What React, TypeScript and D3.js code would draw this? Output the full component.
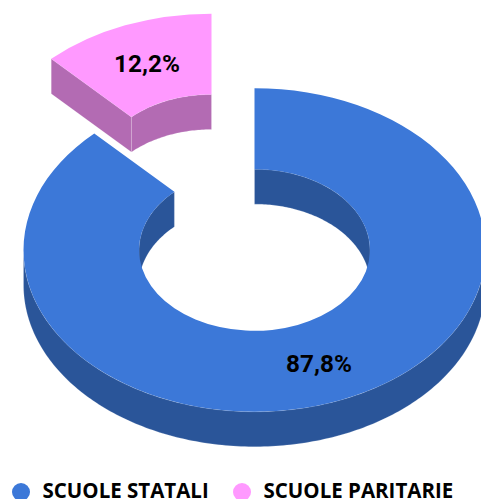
import React from 'react'
import * as d3 from 'd3'

const categories = ['SCUOLE PARITARIE', 'SCUOLE STATALI']
const values = [12.2, 87.8]
const labels = ['12,2%', '87,8%']
const topColors = ['#ff99ff', '#3c78d8']
const sideColors = ['#b36bb3', '#2a5599']
const legendOrder = [1, 0]
const legendX = [21, 242]

const width = 481
const height = 499
const cx = 254.5
const cy = 250
const rx = 231
const tilt = 0.7
const innerRatio = 0.5
const depth = 35
const explode = 115

// pie runs from -PI .. PI so the small slice ends at 12 o'clock
const arcs = d3.pie<number>().sort(null).startAngle(-2 * Math.PI * values[0] / 100).endAngle(2 * Math.PI - 2 * Math.PI * values[0] / 100)(values)

const px = (r: number, a: number) => r * Math.sin(a)
const py = (r: number, a: number) => -r * tilt * Math.cos(a)
const line = d3.line()

// band of the ellipse edge pushed down by depth
function wall(r: number, a0: number, a1: number) {
  const n = Math.max(2, Math.ceil(Math.abs(a1 - a0) * 60))
  const angles = d3.range(n + 1).map(i => a0 + (a1 - a0) * i / n)
  const top = angles.map(a => [px(r, a), py(r, a)] as [number, number])
  const bottom = angles.map(a => [px(r, a), py(r, a) + depth] as [number, number]).reverse()
  return line(top.concat(bottom)) + 'Z'
}

function cut(a: number) {
  const ri = rx * innerRatio
  return line([
    [px(ri, a), py(ri, a)],
    [px(rx, a), py(rx, a)],
    [px(rx, a), py(rx, a) + depth],
    [px(ri, a), py(ri, a) + depth],
  ]) + 'Z'
}

// visible piece of a wall: [a0,a1] intersected with a periodic window
function clipRange(a0: number, a1: number, w0: number, w1: number) {
  const out: [number, number][] = []
  for (const k of [-2, -1, 0, 1, 2]) {
    const s = Math.max(a0, w0 + k * 2 * Math.PI)
    const e = Math.min(a1, w1 + k * 2 * Math.PI)
    if (e > s) out.push([s, e])
  }
  return out
}

const arcGen = d3.arc<d3.PieArcDatum<number>>().innerRadius(rx * innerRatio).outerRadius(rx)
const edge = { stroke: '#ffffff', strokeOpacity: 0.25, strokeWidth: 0.7 }

function Slice({ i }: { i: number }) {
  const d = arcs[i]
  const mid = (d.startAngle + d.endAngle) / 2
  const off = i === 0 ? [explode * Math.sin(mid), -explode * tilt * Math.cos(mid)] : [0, 0]
  const ri = rx * innerRatio
  return (
    <g transform={`translate(${cx + off[0]},${cy + off[1]})`}>
      {clipRange(d.startAngle, d.endAngle, -Math.PI / 2, Math.PI / 2).map((r, k) => (
        <path key={'in' + k} d={wall(ri, r[0], r[1])} fill={sideColors[i]} {...edge} />
      ))}
      {i === 0 && <path d={cut(d.startAngle)} fill={sideColors[i]} {...edge} />}
      {clipRange(d.startAngle, d.endAngle, Math.PI / 2, 3 * Math.PI / 2).map((r, k) => (
        <path key={'out' + k} d={wall(rx, r[0], r[1])} fill={sideColors[i]} {...edge} />
      ))}
      <g transform={`scale(1,${tilt})`}>
        <path d={arcGen(d) as string} fill={topColors[i]} />
      </g>
    </g>
  )
}

const labelPos = [[147, 63], [319, 363]]

export default function App() {
  return (
    <svg width={width} height={height} style={{ position: 'absolute', left: 0, top: 0 }}>
      <Slice i={1} />
      <Slice i={0} />
      {labels.map((t, i) => (
        <text key={t} x={labelPos[i][0]} y={labelPos[i][1]} textAnchor="middle" dominantBaseline="central"
          fontFamily="Roboto" fontWeight={700} fontSize={24.3} fill="#000">{t}</text>
      ))}
      {legendOrder.map((c, i) => (
        <g key={c}>
          <circle cx={legendX[i]} cy={492} r={9} fill={topColors[c]} />
          <text x={legendX[i] + 21.5} y={498} fontFamily="'Open Sans'" fontWeight={700} fontSize={20.5} fill="#000">{categories[c]}</text>
        </g>
      ))}
    </svg>
  )
}
